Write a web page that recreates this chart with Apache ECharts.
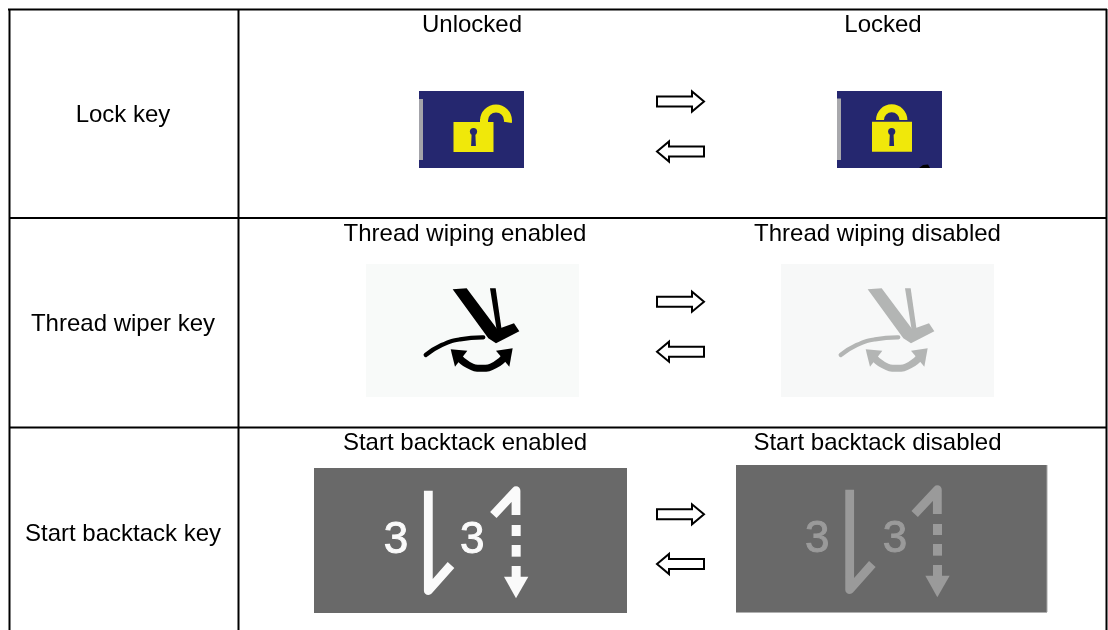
<!DOCTYPE html>
<html>
<head>
<meta charset="utf-8">
<style>html,body{margin:0;padding:0;background:#fff}#c{width:1108px;height:630px}</style>
<script src="https://cdn.jsdelivr.net/npm/echarts@6/dist/echarts.min.js"></script>
</head>
<body>
<div id="c"></div>
<script>
var rowLabels = ['Lock key', 'Thread wiper key', 'Start backtack key'];
var leftHeaders = ['Unlocked', 'Thread wiping enabled', 'Start backtack enabled'];
var rightHeaders = ['Locked', 'Thread wiping disabled', 'Start backtack disabled'];
var digitLabel = '3';

var FONT = '"Liberation Sans", Arial, sans-serif';
var rowLabelY = [115.5, 324.5, 534.5];
var headerY = [25.5, 234.5, 443.5];
var arrowY = [[101.5, 151.5], [301.7, 351.7], [514.3, 564]];
var els = [];

function line(x1, y1, x2, y2, w, c) {
  els.push({type: 'line', silent: true, shape: {x1: x1, y1: y1, x2: x2, y2: y2},
    style: {stroke: c || '#000', lineWidth: w || 2}});
}
function rect(x, y, w, h, c) {
  els.push({type: 'rect', silent: true, shape: {x: x, y: y, width: w, height: h}, style: {fill: c}});
}
function poly(pts, fill, stroke, w) {
  els.push({type: 'polygon', silent: true, shape: {points: pts},
    style: {fill: fill, stroke: stroke || null, lineWidth: w || 0, lineJoin: 'miter'}});
}
function pline(pts, w, c, cap, smooth) {
  els.push({type: 'polyline', silent: true, shape: {points: pts, smooth: smooth || 0},
    style: {fill: null, stroke: c, lineWidth: w, lineCap: cap || 'butt', lineJoin: 'round'}});
}
function arc(cx, cy, r, a0, a1, w, c, cap) {
  els.push({type: 'arc', silent: true, shape: {cx: cx, cy: cy, r: r, startAngle: a0, endAngle: a1, clockwise: true},
    style: {fill: null, stroke: c, lineWidth: w, lineCap: cap || 'butt'}});
}
function circle(cx, cy, r, c) {
  els.push({type: 'circle', silent: true, shape: {cx: cx, cy: cy, r: r}, style: {fill: c}});
}
function text(s, x, y, size, c, strokeW) {
  els.push({type: 'text', silent: true, x: x, y: y,
    style: {text: s, fontFamily: FONT, fontSize: size, fill: c || '#000', align: 'center', verticalAlign: 'middle',
      stroke: strokeW ? c : null, lineWidth: strokeW || 0}});
}

/* grid of the table */
line(8, 9.5, 1107, 9.5);
line(9.5, 9, 9.5, 630);
line(238.5, 9, 238.5, 630);
line(1106.5, 9, 1106.5, 630);
line(9, 218, 1107, 218);
line(9, 427.5, 1107, 427.5);

/* text */
rowLabels.forEach(function (s, i) { text(s, 123, rowLabelY[i], 24); });
leftHeaders.forEach(function (s, i) { text(s, i === 0 ? 472 : 465, headerY[i], 24); });
rightHeaders.forEach(function (s, i) { text(s, i === 0 ? 883 : 877.5, headerY[i], 24); });

/* transition arrows */
arrowY.forEach(function (p) {
  var y = p[0];
  poly([[657, y - 5], [692, y - 5], [692, y - 10], [704, y], [692, y + 10], [692, y + 5], [657, y + 5]], '#fff', '#000', 2);
  y = p[1];
  poly([[704, y - 5], [669, y - 5], [669, y - 10], [657, y], [669, y + 10], [669, y + 5], [704, y + 5]], '#fff', '#000', 2);
});

/* lock icons */
var NAVY = '#25276f', YEL = '#f0e80a';
function keyhole(cx) {
  circle(cx, 131.5, 3.6, NAVY);
  poly([[cx - 1.8, 132], [cx + 1.8, 132], [cx + 2.4, 146], [cx - 2.4, 146]], NAVY);
}
rect(419, 91, 105, 77, NAVY);
rect(419, 99, 4, 61, '#a3a3a9');
rect(453.5, 122, 40, 30, YEL);
keyhole(473.5);
arc(496, 120.5, 12, Math.PI * 1.0, Math.PI * 2.05, 8, YEL);
rect(480, 119, 8, 4, YEL);

rect(837, 91, 105, 77, NAVY);
rect(837, 98.5, 4, 61.5, '#a8a8ac');
arc(891.7, 120, 11.7, Math.PI, Math.PI * 2, 8, YEL);
rect(872, 121.7, 40, 30, YEL);
keyhole(891.7);
poly([[919, 168], [923, 165], [928, 164.5], [930, 168]], '#000');

/* thread wiper icons */
function wiper(ox, bg, c) {
  function P(zx, zy) { return [ox + zx / 3, 260 + zy / 3]; }
  rect(ox + 6, 264, 213, 133, bg);
  poly([P(278, 88), P(320, 85), P(412, 208), P(462, 190), P(478, 214), P(408, 250), P(385, 235)], c);
  poly([P(390, 85), P(407, 85), P(425, 210), P(410, 210)], c);
  pline([P(197, 285), P(245, 255), P(300, 238), P(370, 232)], 4.2, c, 'round', 0.5);
  pline([P(290, 285), P(325, 315), P(365, 325), P(405, 315), P(440, 285)], 7, c, 'butt', 0.5);
  poly([P(272, 268), P(322, 272), P(285, 320)], c);
  poly([P(458, 265), P(408, 272), P(448, 320)], c);
}
wiper(360, '#f8faf9', '#000');
wiper(775, '#f7f8f8', '#b3b5b4');

/* start backtack icons */
function backtack(ox, oy, bx, by, bw, bh, bg, c, d1, d2, dx) {
  function P(zx, zy) { return [ox + (zx + dx) / 3, oy + zy / 3]; }
  rect(bx, by, bw, bh, bg);
  text(digitLabel, ox + d1 / 3, oy + 243 / 3, 44, c, 1);
  text(digitLabel, ox + d2 / 3, oy + 243 / 3, 44, c, 1);
  pline([P(355, 92), P(355, 392), P(423, 315)], 8.8, c);
  pline([P(618, 165), P(618, 92), P(550, 165)], 8.8, c);
  [[195, 228], [255, 290], [318, 352]].forEach(function (d) {
    var a = P(605, d[0]);
    rect(a[0], a[1], 9, (d[1] - d[0]) / 3, c);
  });
  poly([P(582, 350), P(655, 350), P(618, 415)], c);
}
backtack(310, 460, 314, 468, 313, 145, '#696969', '#fafafa', 258, 487, 0);
backtack(730, 459, 736, 465, 311, 147, '#696969', '#9a9a9a', 262, 495, 4);
line(736, 612.5, 1047, 612.5, 1, '#b0b0b0');
line(1047, 465, 1047, 612, 1, '#a8a8a8');

var chart = echarts.init(document.getElementById('c'), null, {renderer: 'canvas'});
chart.setOption({
  animation: false,
  backgroundColor: '#fff',
  graphic: {elements: els}
});
</script>
</body>
</html>
